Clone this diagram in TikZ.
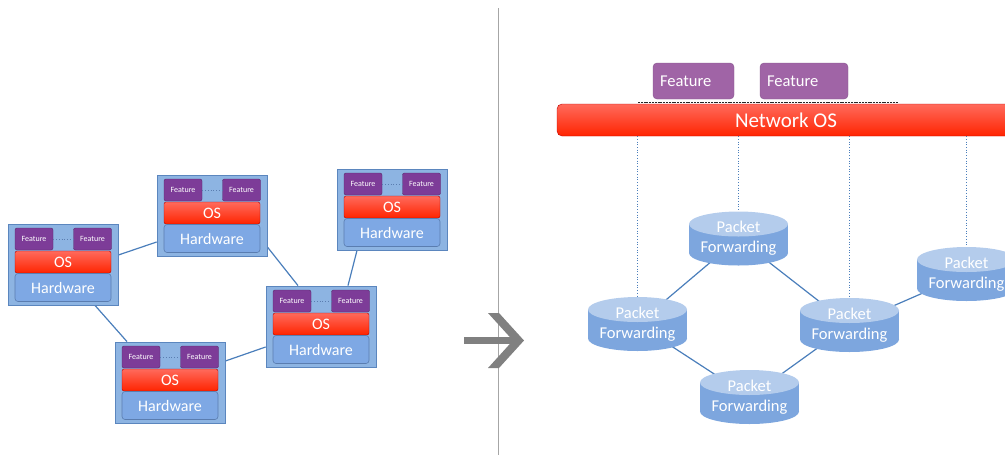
\documentclass[tikz,border=0pt]{standalone}
\usepackage{fontspec}
\setmainfont{Carlito}
\usetikzlibrary{backgrounds}

\definecolor{frameblue}{HTML}{8DB4E2}
\definecolor{frameedge}{HTML}{5B86BE}
\definecolor{linkblue}{HTML}{4A7EBB}
\definecolor{featpurple}{HTML}{7D3C98}
\definecolor{featlight}{HTML}{A064A6}
\definecolor{hwblue}{HTML}{7EA8E4}
\definecolor{hwedge}{HTML}{5A7DB0}
\definecolor{osred}{HTML}{FF2400}
\definecolor{ostop}{HTML}{FF6A5C}
\definecolor{cylbody}{HTML}{7DA6DE}
\definecolor{cyltop}{HTML}{B4CCEC}
\definecolor{divider}{HTML}{A6A6A6}
\definecolor{arrowgray}{HTML}{808080}

\tikzset{
  frame/.style={draw=frameedge, fill=frameblue, line width=0.8pt,
    minimum width=110pt, minimum height=81pt, inner sep=0pt},
  featsmall/.style={fill=featpurple, draw=featpurple!70!black, line width=0.4pt,
    rounded corners=2pt, minimum width=38pt, minimum height=22pt, inner sep=0pt,
    text=white, font=\fontsize{8}{9}\selectfont},
  featdots/.style={draw=hwedge, dotted, line width=0.8pt},
  osbar/.style={top color=ostop, bottom color=osred, draw=red!70!black, line width=0.4pt,
    rounded corners=2pt, minimum width=96pt, minimum height=22pt, inner sep=0pt,
    text=white, font=\fontsize{16}{18}\selectfont},
  hwbox/.style={fill=hwblue, draw=hwedge, line width=0.6pt, rounded corners=3pt,
    minimum width=96pt, minimum height=28pt, inner sep=0pt,
    text=white, font=\fontsize{16}{18}\selectfont},
  link/.style={draw=linkblue, line width=1.2pt},
  vdots/.style={draw=linkblue, dotted, line width=0.7pt},
  netos/.style={top color=ostop, bottom color=osred, draw=red!75!black, line width=0.4pt,
    rounded corners=5pt, minimum width=458pt, minimum height=32pt, inner sep=0pt,
    text=white, font=\fontsize{21}{24}\selectfont},
  featbig/.style={fill=featlight, draw=featlight!85!black, line width=0.4pt,
    rounded corners=4pt, minimum height=36pt, inner xsep=7pt, inner ysep=0pt,
    align=left, text=white, font=\fontsize{16.5}{19}\selectfont},
  fwdnode/.style={minimum width=99pt, minimum height=54pt, inner sep=0pt,
    align=center, text=white, font=\fontsize{16.5}{20}\selectfont},
}

% One switch: frame, two features, OS and hardware layers
\newcommand\device[3]{%
  \begin{scope}[shift={(#2,#3)}]
    \node[frame] (#1) at (55,40.5) {};
    \node[featsmall] (#1-f1) at (26,15) {Feature};
    \node[featsmall] (#1-f2) at (84.5,15) {Feature};
    \draw[featdots] (#1-f1) -- (#1-f2);
    \node[osbar] (#1-os) at (55,38) {OS};
    \node[hwbox] (#1-hw) at (55,63.5) {Hardware};
  \end{scope}}

% One packet-forwarding element drawn as a cylinder
\newcommand\fwd[3]{%
  \begin{scope}[shift={(#2,#3)}]
    \fill[cylbody] (-49.5,-14.5) rectangle (49.5,14.5);
    \fill[cylbody] (0,14.5) ellipse [x radius=49.5pt, y radius=12.5pt];
    \fill[cyltop] (0,-14.5) ellipse [x radius=49.5pt, y radius=12.5pt];
    \node[fwdnode] (#1) at (0,0) {Packet\\Forwarding};
  \end{scope}}

\begin{document}
\begin{tikzpicture}[x=1pt,y=-1pt]
\useasboundingbox (0,0) rectangle (1005,459);
\clip (0,0) rectangle (1005,459);

% ---- left: distributed switches ----
\device{A}{8}{224}
\device{B}{157}{175}
\device{C}{337}{169}
\device{D}{266}{286}
\device{E}{115}{342}

\begin{scope}[on background layer]
  \draw[link] ([yshift=9.5pt]A.east) -- ([yshift=-26.5pt]B.west);
  \draw[link] ([yshift=-31.5pt]B.east) -- ([xshift=-23pt]D.north);
  \draw[link] ([xshift=-35pt]C.south) -- ([xshift=27pt]D.north);
  \draw[link] ([xshift=32pt]A.south) -- ([xshift=-43pt]E.north);
  \draw[link] ([yshift=21.5pt]E.east) -- ([yshift=-20.5pt]D.west);
\end{scope}

% ---- separator and arrow ----
\draw[divider, line width=0.8pt] (498,8) -- (498,455);
\fill[arrowgray] (464,337) rectangle (515,344);
\fill[arrowgray] (488,313) -- (499,313) -- (524,340.5) -- (499,368)
  -- (488,368) -- (513,340.5) -- cycle;

% ---- right: network OS over forwarding elements ----
\node[featbig, text width=67pt] (g1) at (693.5,81) {Feature};
\node[featbig, text width=74pt] (g2) at (804,81) {Feature};
\draw[black!85, dash pattern=on 2pt off 0.8pt, line width=1pt] (638,102.3) -- (898,102.3);
\node[netos] (bar) at (786,120) {Network OS};

\fwd{c1}{738.5}{238.5}
\fwd{c2}{637.5}{324}
\fwd{c3}{749.5}{397}
\fwd{c4}{849.5}{325}
\fwd{c5}{966.5}{274}

\begin{scope}[on background layer]
  \draw[link] (c1.center) -- (c2.center);
  \draw[link] (c1.center) -- (c4.center);
  \draw[link] (c2.center) -- (c3.center);
  \draw[link] (c3.center) -- (c4.center);
  \draw[link] (c4.center) -- (c5.center);
\end{scope}

\draw[vdots] (c2.north |- bar.south) -- (c2.north);
\draw[vdots] (c1.north |- bar.south) -- (c1.north);
\draw[vdots] (c4.north |- bar.south) -- (c4.north);
\draw[vdots] (c5.north |- bar.south) -- (c5.north);
\end{tikzpicture}
\end{document}
